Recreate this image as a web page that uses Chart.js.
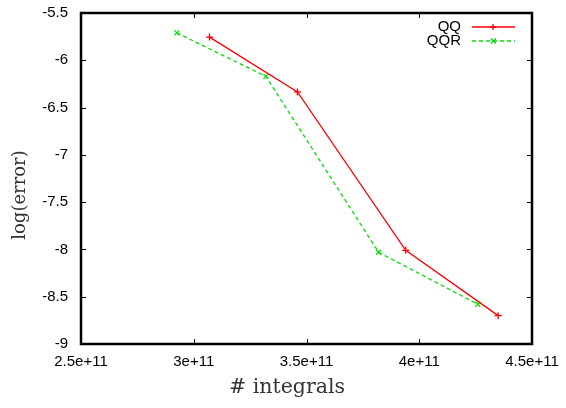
<!DOCTYPE html>
<html>
<head>
<meta charset="utf-8">
<script src="https://cdn.jsdelivr.net/npm/chart.js@4"></script>
<style>
  html, body { margin: 0; padding: 0; background: #fff; }
  #wrap { width: 566px; height: 408px; }
</style>
</head>
<body>
<div id="wrap"><canvas id="errChart" width="566" height="408"></canvas></div>
<script>
const qqX = [3.07e11, 3.46e11, 3.94e11, 4.35e11];
const qqY = [-5.755, -6.335, -8.01, -8.70];
const qqrX = [2.925e11, 3.32e11, 3.82e11, 4.26e11];
const qqrY = [-5.71, -6.17, -8.03, -8.58];
const xTicks = [2.5e11, 3e11, 3.5e11, 4e11, 4.5e11];
const yTicks = [-9, -8.5, -8, -7.5, -7, -6.5, -6, -5.5];
const seriesNames = ['QQ', 'QQR'];
const xTitle = '# integrals';
const yTitle = 'log(error)';

const red = '#ff0000';
const green = '#00e000';

function fmtX(v) {
  return (Math.round(v / 1e10) / 10) + 'e+11';
}

// gnuplot-like frame, inward ticks, legend and axis titles
const gnuFrame = {
  id: 'gnuFrame',
  afterDatasetsDraw(chart) {
    const ctx = chart.ctx;
    const a = chart.chartArea;
    const xs = chart.scales.x, ys = chart.scales.y;
    ctx.save();
    ctx.strokeStyle = '#000';
    ctx.lineWidth = 1;
    xTicks.forEach(t => {
      const px = Math.round(xs.getPixelForValue(t)) + 0.5;
      ctx.beginPath();
      ctx.moveTo(px, a.bottom); ctx.lineTo(px, a.bottom - 5);
      ctx.moveTo(px, a.top); ctx.lineTo(px, a.top + 5);
      ctx.stroke();
    });
    yTicks.forEach(t => {
      const py = Math.round(ys.getPixelForValue(t)) + 0.5;
      ctx.beginPath();
      ctx.moveTo(a.left, py); ctx.lineTo(a.left + 5, py);
      ctx.moveTo(a.right, py); ctx.lineTo(a.right - 5, py);
      ctx.stroke();
    });
    ctx.lineWidth = 2.5;
    ctx.strokeRect(a.left, a.top, a.right - a.left, a.bottom - a.top);

    // legend
    const ds = chart.data.datasets;
    ctx.font = '15px "Liberation Sans", Arial, sans-serif';
    ctx.textAlign = 'right';
    ctx.textBaseline = 'middle';
    ds.forEach((d, i) => {
      const y = 27 + i * 14;
      ctx.fillStyle = '#000';
      ctx.fillText(seriesNames[i], 461, y);
      ctx.strokeStyle = d.borderColor;
      ctx.lineWidth = 1.3;
      ctx.setLineDash(d.borderDash || []);
      ctx.beginPath();
      ctx.moveTo(472, y); ctx.lineTo(515, y);
      ctx.stroke();
      ctx.setLineDash([]);
      ctx.beginPath();
      if (d.pointStyle === 'cross') {
        ctx.moveTo(490, y); ctx.lineTo(496, y);
        ctx.moveTo(493, y - 3); ctx.lineTo(493, y + 3);
      } else {
        ctx.moveTo(491, y - 2.5); ctx.lineTo(496, y + 2.5);
        ctx.moveTo(496, y - 2.5); ctx.lineTo(491, y + 2.5);
      }
      ctx.stroke();
    });

    // axis titles
    ctx.fillStyle = '#333';
    ctx.textAlign = 'center';
    ctx.font = '20.5px "DejaVu Serif", serif';
    ctx.fillText(xTitle, 287, 388);
    ctx.font = '18px "DejaVu Serif", serif';
    ctx.translate(20, 195);
    ctx.rotate(-Math.PI / 2);
    ctx.fillText(yTitle, 0, 0);
    ctx.restore();
  }
};

new Chart(document.getElementById('errChart'), {
  type: 'scatter',
  data: {
    datasets: [{
      label: seriesNames[0],
      data: qqX.map((x, i) => ({ x: x, y: qqY[i] })),
      showLine: true,
      borderColor: red,
      backgroundColor: red,
      borderWidth: 1.3,
      pointStyle: 'cross',
      pointRadius: 3.5,
      pointBorderWidth: 1.3
    }, {
      label: seriesNames[1],
      data: qqrX.map((x, i) => ({ x: x, y: qqrY[i] })),
      showLine: true,
      borderColor: green,
      backgroundColor: green,
      borderWidth: 1.3,
      borderDash: [4, 3],
      pointStyle: 'crossRot',
      pointRadius: 3.5,
      pointBorderWidth: 1.3
    }]
  },
  options: {
    responsive: false,
    animation: false,
    layout: { padding: { left: 0, right: 34, top: 13, bottom: 0 } },
    plugins: { legend: { display: false }, tooltip: { enabled: false } },
    scales: {
      x: {
        type: 'linear',
        min: 2.5e11, max: 4.5e11,
        afterBuildTicks: s => { s.ticks = xTicks.map(v => ({ value: v })); },
        afterFit: s => { s.height = 64; s.paddingLeft = 0; s.paddingRight = 0; },
        grid: { display: false, drawTicks: false },
        border: { display: false },
        ticks: {
          color: '#000',
          padding: 9,
          maxRotation: 0,
          font: { family: '"Liberation Sans", Arial, sans-serif', size: 15 },
          callback: v => fmtX(v)
        }
      },
      y: {
        min: -9, max: -5.5,
        afterBuildTicks: s => { s.ticks = yTicks.map(v => ({ value: v })); },
        afterFit: s => { s.width = 81; s.paddingTop = 0; s.paddingBottom = 0; },
        grid: { display: false, drawTicks: false },
        border: { display: false },
        ticks: {
          color: '#000',
          padding: 13,
          font: { family: '"Liberation Sans", Arial, sans-serif', size: 15 },
          callback: v => String(v)
        }
      }
    }
  },
  plugins: [gnuFrame]
});
</script>
</body>
</html>
